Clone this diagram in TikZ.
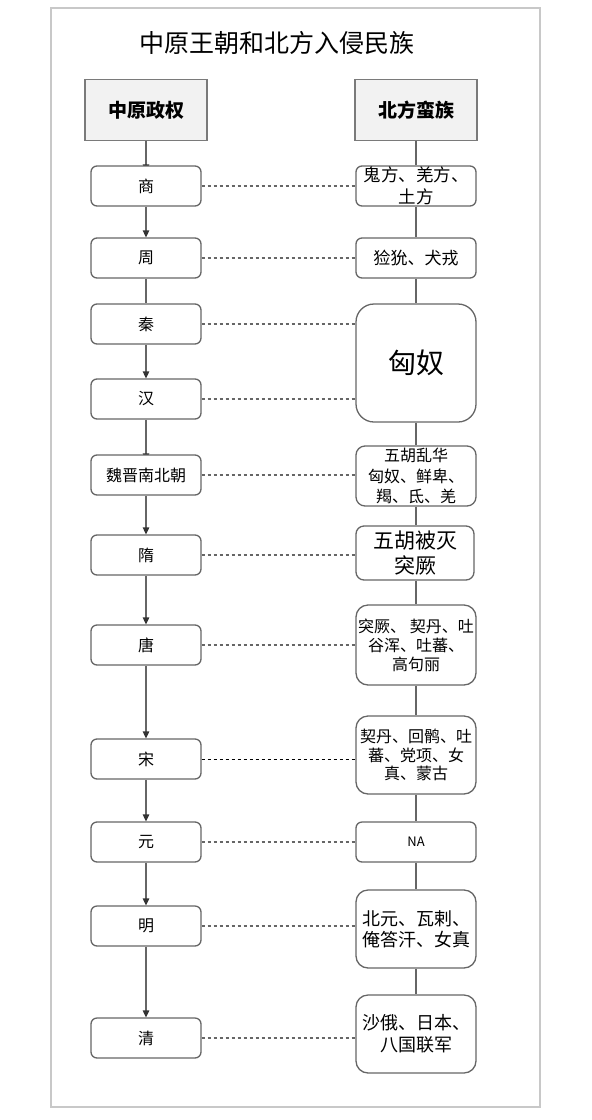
\documentclass[tikz,border=0pt]{standalone}
\usepackage{fontspec}
\setmainfont{Noto Sans CJK SC}
\usetikzlibrary{arrows.meta,backgrounds}
\definecolor{ln}{HTML}{666666}
\definecolor{frm}{HTML}{C8C8C8}
\definecolor{hdfill}{HTML}{F2F2F2}
\definecolor{hdline}{HTML}{7A7A7A}
\newcommand\fsz[2]{\fontsize{#1}{#2}\selectfont}
\begin{document}
\begin{tikzpicture}[x=1pt,y=-1pt,
  lbox/.style={draw=ln, line width=1.3pt, fill=white, rounded corners=6pt,
    minimum width=110pt, minimum height=40pt, inner sep=0pt, align=center, font=\fsz{16}{19}},
  rbox/.style={draw=ln, line width=1.3pt, fill=white, rounded corners=6pt,
    minimum width=120pt, minimum height=40pt, inner sep=0pt, align=center},
  hbox/.style={draw=hdline, line width=1.8pt, fill=hdfill, minimum width=122pt,
    minimum height=61pt, inner sep=0pt, font=\bfseries\fsz{19}{23}},
  vline/.style={draw=ln, line width=1.3pt},
  varrow/.style={draw=ln, line width=1.3pt, -{Triangle[length=7pt,width=6.5pt,color=black!80]}},
  dline/.style={draw=ln, line width=1.3pt, dash pattern=on 3pt off 3pt},
  dlineb/.style={draw=black, line width=1pt, dash pattern=on 3pt off 3pt}]
\useasboundingbox (0,0) rectangle (592,1120);
\draw[frm, line width=2pt] (51,8) rectangle (540,1107);
\node[font=\fsz{25}{30}] (title) at (277,43) {中原王朝和北方入侵民族};
% headers
\node[hbox] (hl) at (146,110) {中原政权};
\node[hbox] (hr) at (416,110) {北方蛮族};
% left column
\node[lbox] (shang) at (146,186) {商};
\node[lbox] (zhou) at (146,258) {周};
\node[lbox] (qin) at (146,324) {秦};
\node[lbox] (han) at (146,399) {汉};
\node[lbox] (wei) at (146,475) {魏晋南北朝};
\node[lbox] (sui) at (146,555) {隋};
\node[lbox] (tang) at (146,645) {唐};
\node[lbox] (song) at (146,759) {宋};
\node[lbox] (yuan) at (146,842) {元};
\node[lbox] (ming) at (146,926) {明};
\node[lbox] (qing) at (146,1038) {清};
% right column
\node[rbox, font=\fsz{17.5}{21.5}] (r1) at (416,186) {鬼方、羌方、\\土方};
\node[rbox, font=\fsz{17}{20}] (r2) at (416,258) {猃狁、犬戎};
\node[rbox, minimum height=118pt, rounded corners=18pt, font=\fsz{28}{33}] (r3) at (416,363) {匈奴};
\node[rbox, minimum height=60pt, rounded corners=9pt, font=\fsz{16}{20.5}] (r4) at (416,476) {五胡乱华\\匈奴、鲜卑、\\羯、氐、羌};
\node[rbox, minimum width=118pt, minimum height=54pt, rounded corners=8pt, font=\fsz{21}{25}] (r5) at (415,553) {五胡被灭\\突厥};
\node[rbox, minimum height=80pt, rounded corners=12pt, font=\fsz{16}{19}] (r6) at (416,645) {突厥、 契丹、吐\\谷浑、吐蕃、\\高句丽};
\node[rbox, minimum height=78pt, rounded corners=12pt, font=\fsz{16}{18.5}] (r7) at (416,755) {契丹、回鹘、吐\\蕃、党项、女\\真、蒙古};
\node[rbox, font=\fsz{13}{16}] (r8) at (416,842) {NA};
\node[rbox, minimum height=78pt, rounded corners=12pt, font=\fsz{18}{21}] (r9) at (416,929) {北元、瓦剌、\\俺答汗、女真};
\node[rbox, minimum height=78pt, rounded corners=12pt, font=\fsz{18}{22}] (r10) at (416,1034) {沙俄、日本、\\八国联军};
% connectors hidden under boxes
\begin{pgfonlayer}{background}
\draw[varrow] (hl.south) -- ([yshift=-6pt]shang.north);
\draw[varrow] (han.south) -- ([yshift=-6pt]wei.north);
\end{pgfonlayer}
% left column arrows
\draw[varrow] (shang) -- (zhou);
\draw[vline] (zhou) -- (qin);
\draw[varrow] (qin) -- (han);
\draw[varrow] (wei) -- (sui);
\draw[varrow] (sui) -- (tang);
\draw[varrow] (tang) -- (song);
\draw[varrow] (song) -- (yuan);
\draw[varrow] (yuan) -- (ming);
\draw[varrow] (ming) -- (qing);
% right column lines
\draw[vline] (hr) -- (r1);
\draw[vline] (r1) -- (r2);
\draw[vline] (r2) -- (r3);
\draw[vline] (r3) -- (r4);
\draw[vline] (r4) -- (r5.north -| r4.south);
\draw[vline] (r5.south -| r6.north) -- (r6);
\draw[vline] (r6) -- (r7);
\draw[vline] (r7) -- (r8);
\draw[vline] (r8) -- (r9);
\draw[vline] (r9) -- (r10);
% dashed links
\draw[dline] (shang.east) -- (shang.east -| r1.west);
\draw[dline] (zhou.east) -- (zhou.east -| r2.west);
\draw[dline] (qin.east) -- (qin.east -| r3.west);
\draw[dline] (han.east) -- (han.east -| r3.west);
\draw[dline] (wei.east) -- (wei.east -| r4.west);
\draw[dline] (sui.east) -- (sui.east -| r5.west);
\draw[dline] (tang.east) -- (tang.east -| r6.west);
\draw[dlineb] (song.east) -- (song.east -| r7.west);
\draw[dline] (yuan.east) -- (yuan.east -| r8.west);
\draw[dline] (ming.east) -- (ming.east -| r9.west);
\draw[dline] (qing.east) -- (qing.east -| r10.west);
\end{tikzpicture}
\end{document}
